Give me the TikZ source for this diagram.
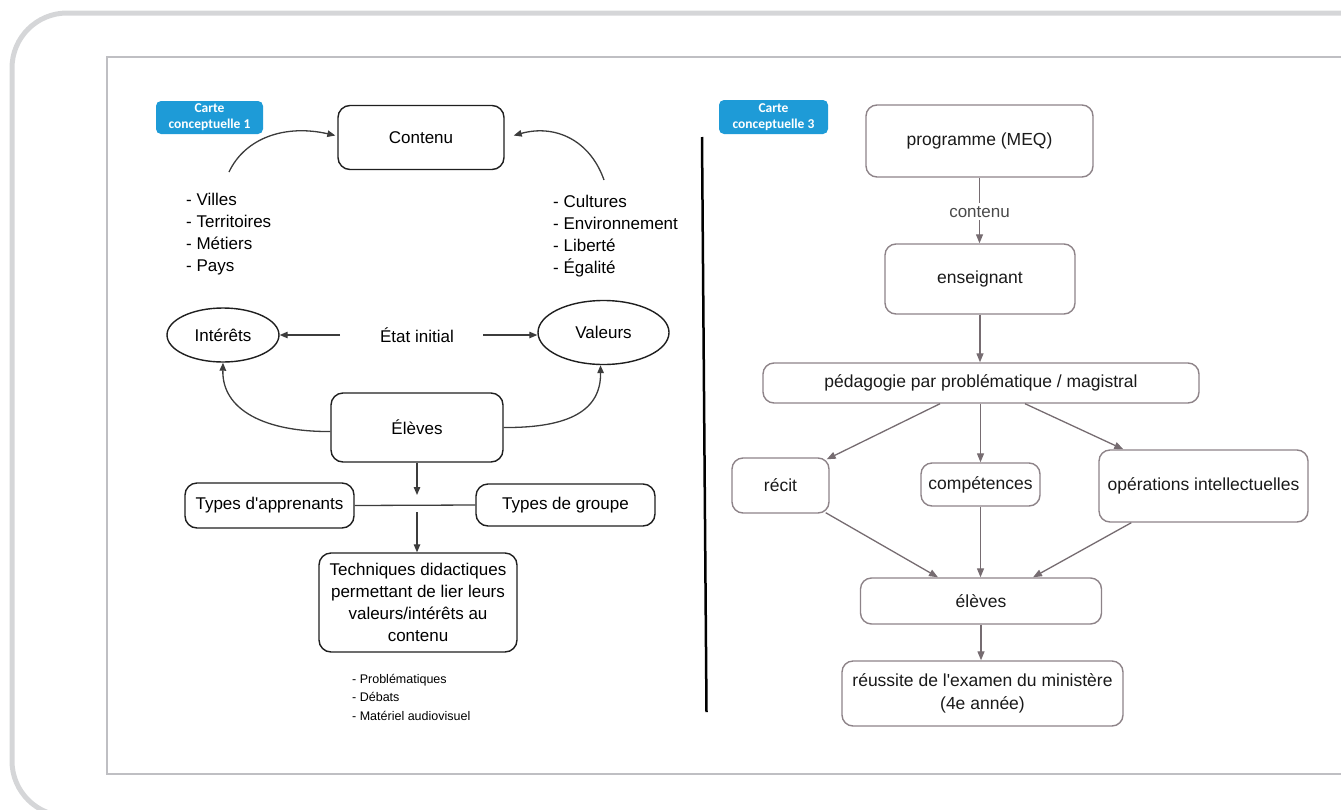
\documentclass[tikz,border=0pt]{standalone}
\usepackage{fontspec}
\setmainfont{Liberation Sans}[Ligatures=TeXOff]
\newfontfamily\badgefont{Carlito}
\usetikzlibrary{arrows.meta,shapes.geometric,calc}
\definecolor{framegray}{HTML}{D5D6D8}
\definecolor{innergray}{HTML}{BFBFC3}
\definecolor{badgeblue}{HTML}{1E9BD7}
\definecolor{larrow}{HTML}{3C3C3C}
\definecolor{rborder}{HTML}{8D8388}
\definecolor{rarrow}{HTML}{766C71}
\definecolor{rtext}{HTML}{1A1A1A}
\definecolor{rlabel}{HTML}{4A4A4A}
\begin{document}
\begin{tikzpicture}[x=1pt,y=-1pt,
  lfont/.style={font=\fontsize{17}{22}\selectfont},
  lbox/.style={draw=black!88, line width=1.4pt, rounded corners=12pt, align=center, inner sep=0pt, lfont},
  lell/.style={draw=black!88, line width=1.4pt, ellipse, inner sep=0pt, lfont},
  lline/.style={draw=larrow, line width=1.3pt},
  larr/.style={lline, -{Triangle[length=8pt,width=6.5pt]}},
  rbox/.style={draw=rborder, line width=1.4pt, rounded corners=11pt, align=center, inner sep=0pt, font=\fontsize{17.5}{23.5}\selectfont, text=rtext},
  rarr/.style={draw=rarrow, line width=1.3pt, -{Triangle[length=9pt,width=7pt]}},
  badge/.style={fill=badgeblue, rounded corners=5pt, text=white, align=center, inner sep=0pt, font=\badgefont\bfseries\fontsize{13.5}{16}\selectfont},
]
\useasboundingbox (0,0) rectangle (1341,809);
\begin{scope}
  \clip (0,0) rectangle (1341,809);
  \draw[framegray, line width=5pt, rounded corners=55pt] (12,13) rectangle (1500,816);
  \draw[innergray, line width=2pt] (107,57) rectangle (1400,774);
\end{scope}
\draw[black, line width=2.5pt] (702,137) -- (706.5,712);

% badges
\node[badge, minimum width=107pt, minimum height=33pt] (b1) at (209.5,117.5) {Carte\\conceptuelle 1};
\node[badge, minimum width=109pt, minimum height=34pt] (b3) at (773.5,117) {Carte\\conceptuelle 3};

% ---------- left map ----------
\node[lbox, minimum width=166pt, minimum height=64pt] (contenu) at (421,137.5) {Contenu};
\node[lfont, align=left, inner sep=0pt, anchor=west] (listL) at (186,234) {- Villes\\- Territoires\\- Métiers\\- Pays};
\node[lfont, align=left, inner sep=0pt, anchor=west] (listR) at (553,236.5) {- Cultures\\- Environnement\\- Liberté\\- Égalité};
\coordinate (arcL) at (229,172);
\coordinate (arcR) at (604,180);
\draw[larr] (arcL) .. controls (245,138) and (285,124) .. ($(contenu.west)+(-2,-2)$);
\draw[larr] (arcR) .. controls (590,140) and (555,124) .. ($(contenu.east)+(9,-2)$);

\node[lell, minimum width=112pt, minimum height=54pt] (interets) at (223,335) {Intérêts};
\node[lell, minimum width=131pt, minimum height=64pt] (valeurs) at (603.5,332.5) {Valeurs};
\node[lfont, inner sep=0pt] (etat) at (417,335) {État initial};
\coordinate (eiL) at (340,335);
\coordinate (eiR) at (483,335);
\draw[larr] (eiL) -- (eiL -| interets.east);
\draw[larr] (eiR) -- (eiR -| valeurs.west);

\node[lbox, minimum width=172pt, minimum height=69pt] (eleves) at (417,427.5) {Élèves};
\draw[larr] ($(eleves.west)+(0,4)$) .. controls (265,432) and (222,410) .. (interets.south);
\draw[larr] (eleves.east) .. controls (570,428) and (601,410) .. ($(valeurs.south)+(-3,0)$);

\node[lbox, minimum width=169pt, minimum height=45pt] (tapp) at (269.5,505.5) {Types d'apprenants};
\node[lbox, minimum width=179pt, minimum height=42pt] (tgrp) at (565.5,505) {Types de groupe};
\draw[lline] (tapp.east) -- (tgrp.west);
\coordinate (jnTop) at (417,495);
\coordinate (jnBot) at (417,512);
\draw[larr] (eleves.south) -- (jnTop);
\node[lbox, minimum width=198pt, minimum height=99pt] (tech) at (418,602.5) {Techniques didactiques\\permettant de lier leurs\\valeurs/intérêts au\\contenu};
\draw[larr] (jnBot) -- (jnBot |- tech.north);
\node[font=\fontsize{12.5}{18.5}\selectfont, align=left, inner sep=0pt, anchor=west] (techlist) at (352,697) {- Problématiques\\- Débats\\- Matériel audiovisuel};

% ---------- right map ----------
\node[rbox, minimum width=227pt, minimum height=72pt] (prog) at (979.5,141) {programme (MEQ)};
\node[rbox, minimum width=190pt, minimum height=70pt] (ens) at (980,279) {enseignant};
\draw[rarr] (prog.south) -- node[pos=0.52, fill=white, inner sep=3pt, font=\fontsize{17}{20}\selectfont, text=rlabel] {contenu} (prog.south |- ens.north);
\node[rbox, minimum width=436pt, minimum height=40pt] (peda) at (981,383) {pédagogie par problématique / magistral};
\draw[rarr] (ens.south) -- (ens.south |- peda.north);
\node[rbox, minimum width=97pt, minimum height=55pt] (recit) at (780.5,485.5) {récit};
\node[rbox, minimum width=119pt, minimum height=43pt] (comp) at (980.5,484.5) {compétences};
\node[rbox, minimum width=209pt, minimum height=72pt] (oper) at (1203.5,486) {opérations intellectuelles};
\node[rbox, minimum width=241pt, minimum height=46pt] (elv) at (981,601) {élèves};
\node[rbox, minimum width=281pt, minimum height=65pt] (reus) at (982.5,693.5) {réussite de l'examen du ministère\\(4e année)};

\draw[rarr] ($(peda.south)+(-41,0)$) -- ($(recit.north east)+(-3,2)$);
\draw[rarr] (peda.south -| comp.north) -- (comp.north);
\draw[rarr] ($(peda.south)+(44,0)$) -- ($(oper.north west)+(25,0)$);
\draw[rarr] ($(recit.south east)+(-4,-1)$) -- ($(elv.north)+(-43,0)$);
\draw[rarr] (comp.south) -- (comp.south |- elv.north);
\draw[rarr] ($(oper.south west)+(33,0)$) -- ($(elv.north)+(52,0)$);
\draw[rarr] (elv.south) -- (elv.south |- reus.north);
\end{tikzpicture}
\end{document}
